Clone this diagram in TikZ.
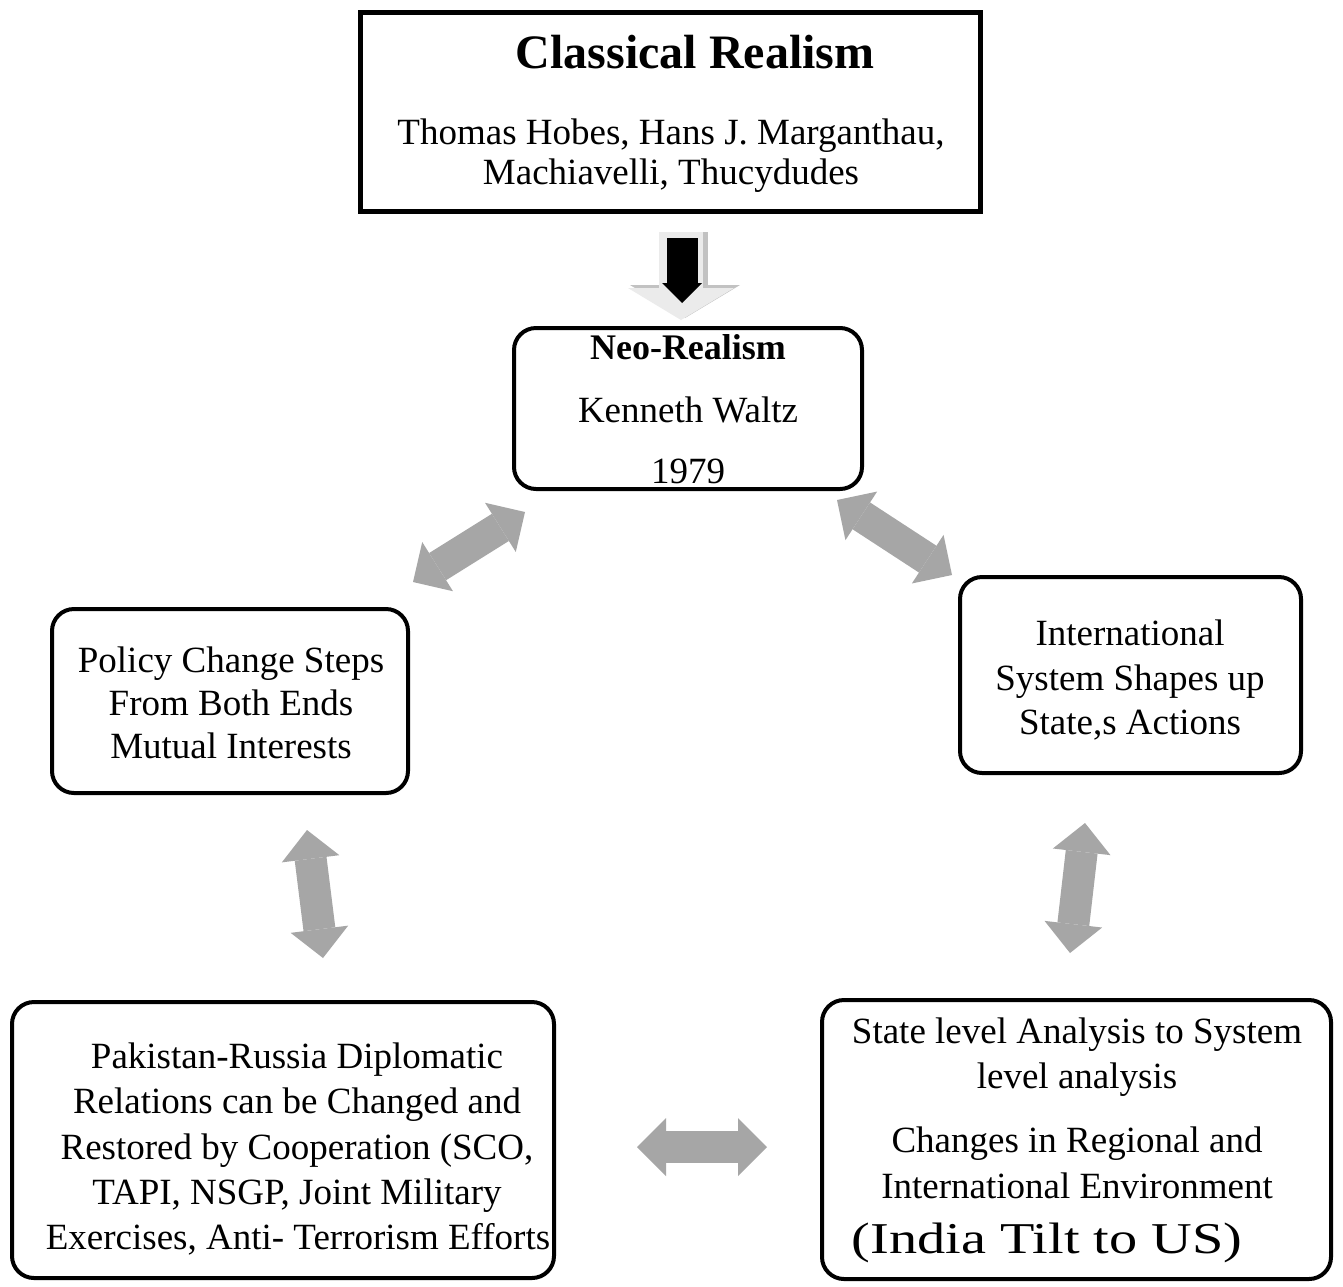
\documentclass[tikz,border=0pt]{standalone}
\usepackage{fontspec}
\setmainfont{Liberation Serif}
\usetikzlibrary{arrows.meta}
\definecolor{agray}{HTML}{A6A6A6}
\definecolor{lgray}{HTML}{EBEBEB}
\definecolor{sgray}{HTML}{C2C2C2}
\begin{document}
\begin{tikzpicture}[x=1pt,y=-1pt,
  sqbox/.style={draw=black, line width=5pt, rectangle, inner sep=0pt},
  rbox/.style={draw=black, line width=4pt, rectangle, rounded corners=22pt, inner sep=0pt},
  txt/.style={anchor=base, inner sep=0pt, font=\fontsize{37}{44}\selectfont},
  btxt/.style={txt, font=\fontsize{36}{44}\selectfont\bfseries},
  garrow/.style={draw=agray, line width=32pt,
    arrows={Triangle[width=58pt,length=29pt,line width=0pt]-Triangle[width=58pt,length=29pt,line width=0pt]}},
  ]
\fill[white] (0,0) rectangle (1343,1286);
\useasboundingbox (0,0) rectangle (1343,1286);

% boxes
\node[sqbox, minimum width=620pt, minimum height=199pt] (classical) at (670.5,112) {};
\node[rbox, minimum width=348pt, minimum height=161pt] (neo) at (688,408.5) {};
\node[rbox, minimum width=356pt, minimum height=184pt] (policy) at (230,701) {};
\node[rbox, minimum width=341pt, minimum height=196pt] (intl) at (1130.5,675) {};
\node[rbox, minimum width=542pt, minimum height=276pt] (pak) at (283,1140) {};
\node[rbox, minimum width=509pt, minimum height=279pt] (state) at (1076.5,1139.5) {};

% texts
\node[txt, font=\fontsize{48}{56}\selectfont\bfseries] (t1) at (695,68) {Classical Realism};
\node[txt] (t2) at (671,144) {Thomas Hobes, Hans J. Marganthau,};
\node[txt] (t3) at (671,184) {Machiavelli, Thucydudes};

\node[btxt] (n1) at (688,359) {Neo-Realism};
\node[txt] (n2) at (688,422) {Kenneth Waltz};
\node[txt] (n3) at (688,483) {1979};

\node[txt] (p1) at (231,672) {Policy Change Steps};
\node[txt] (p2) at (231,715) {From Both Ends};
\node[txt] (p3) at (231,758) {Mutual Interests};

\node[txt] (i1) at (1130,645) {International};
\node[txt] (i2) at (1130,690) {System Shapes up};
\node[txt] (i3) at (1130,734) {State,s Actions};

\node[txt] (k1) at (297,1068) {Pakistan-Russia Diplomatic};
\node[txt] (k2) at (297,1113) {Relations can be Changed and};
\node[txt] (k3) at (297,1159) {Restored by Cooperation (SCO,};
\node[txt] (k4) at (297,1204) {TAPI, NSGP, Joint Military};
\node[txt] (k5) at (298,1249) {Exercises, Anti- Terrorism Efforts};

\node[txt] (s1) at (1077,1043) {State level Analysis to System};
\node[txt] (s2) at (1077,1088) {level analysis};
\node[txt] (s3) at (1077,1152) {Changes in Regional and};
\node[txt] (s4) at (1077,1198) {International Environment};
\node[txt] (s5) at (1047,1253) {\scalebox{1.28}[1]{\fontsize{44}{50}\selectfont (India Tilt to US)}};

% top arrow (classical -> neo)
\coordinate (ta1) at (682,232);
\coordinate (ta2) at (682,318);
\coordinate (tb1) at (682,238);
\coordinate (tb2) at (682,303);
\draw[sgray, line width=46pt, arrows={-Triangle[width=110pt,length=33pt,line width=0pt]}] ([xshift=3pt]ta1) -- ([xshift=3pt]ta2);
\draw[lgray, line width=44pt, arrows={-Triangle[width=106pt,length=32pt,line width=0pt]}] ([xshift=-1pt]ta1) -- ([xshift=-1pt,yshift=-2pt]ta2);
\draw[black, line width=31pt, arrows={-Triangle[width=40pt,length=20pt,line width=0pt]}] (tb1) -- (tb2);

% grey double arrows
\coordinate (a1) at (413,582);
\coordinate (a2) at (525,512);
\coordinate (b1) at (837,500);
\coordinate (b2) at (952,575);
\coordinate (c1) at (307,830);
\coordinate (c2) at (323,958);
\coordinate (d1) at (1085,823);
\coordinate (d2) at (1070,953);
\coordinate (e1) at (637,1147);
\coordinate (e2) at (767,1147);
\draw[garrow] (a1) -- (a2);
\draw[garrow] (b1) -- (b2);
\draw[garrow] (c1) -- (c2);
\draw[garrow] (d1) -- (d2);
\draw[garrow] (e1) -- (e2);
\end{tikzpicture}
\end{document}
